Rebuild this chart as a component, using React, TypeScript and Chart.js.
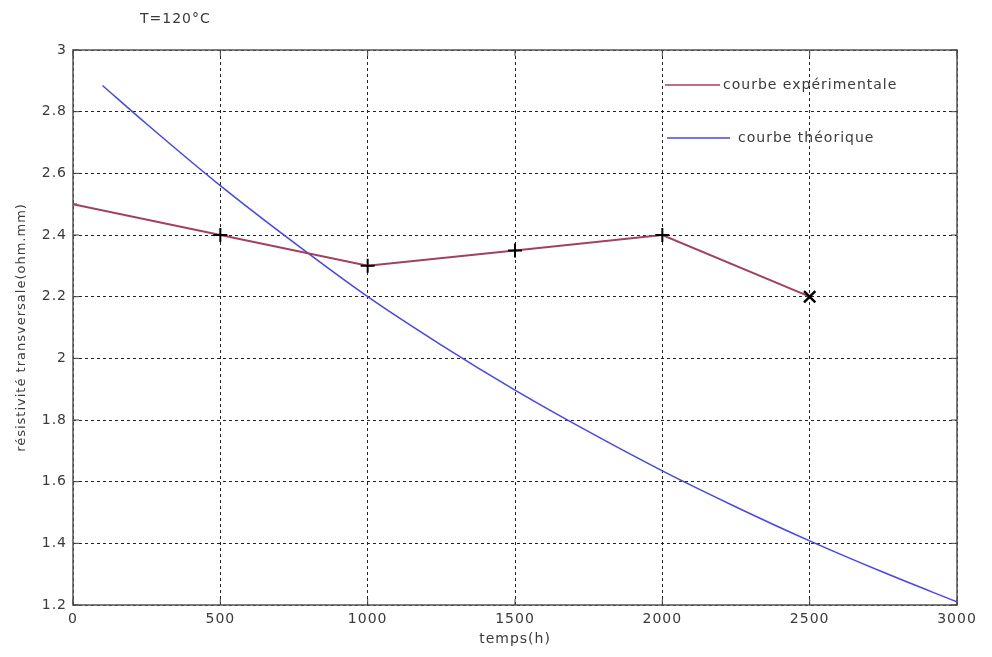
import React, { useEffect, useRef } from "react";
import { Chart, registerables } from "chart.js";

Chart.register(...registerables);

const titleText = "T=120°C";
const xTitle = "temps(h)";
const yTitle = "résistivité transversale(ohm.mm)";

const expLabel = "courbe expérimentale";
const expX = [0, 500, 1000, 1500, 2000, 2500];
const expY = [2.5, 2.4, 2.3, 2.35, 2.4, 2.2];

const theoLabel = "courbe théorique";
const theoX = [100, 250, 500, 750, 1000, 1250, 1500, 1750, 2000, 2250, 2500, 2750, 3000];
const theoY = [2.885, 2.76, 2.56, 2.375, 2.2, 2.043, 1.897, 1.762, 1.635, 1.518, 1.408, 1.306, 1.21];

const xTicks = [0, 500, 1000, 1500, 2000, 2500, 3000];
const yTicks = [1.2, 1.4, 1.6, 1.8, 2, 2.2, 2.4, 2.6, 2.8, 3];

const EXP_COLOR = "#a3405f";
const THEO_COLOR = "#4545f5";
const TEXT_COLOR = "#3a3a3a";
const FONT = "DejaVu Sans, Arial, sans-serif";

const spacingPlugin = {
  id: "spacing",
  beforeDraw(chart: any) {
    (chart.ctx as any).letterSpacing = "1px";
  },
};

const decorPlugin = {
  id: "decor",
  afterDatasetsDraw(chart: any) {
    const { ctx, chartArea: a, scales } = chart;
    ctx.save();
    ctx.strokeStyle = "#555";
    ctx.lineWidth = 1.5;
    ctx.setLineDash([]);
    ctx.strokeRect(a.left, a.top, a.right - a.left, a.bottom - a.top);
    ctx.strokeStyle = "#444";
    ctx.lineWidth = 1;
    xTicks.forEach((v) => {
      const px = scales.x.getPixelForValue(v);
      ctx.beginPath();
      ctx.moveTo(px, a.bottom);
      ctx.lineTo(px, a.bottom - 6);
      ctx.moveTo(px, a.top);
      ctx.lineTo(px, a.top + 6);
      ctx.stroke();
    });
    yTicks.forEach((v) => {
      const py = scales.y.getPixelForValue(v);
      ctx.beginPath();
      ctx.moveTo(a.left, py);
      ctx.lineTo(a.left + 6, py);
      ctx.moveTo(a.right, py);
      ctx.lineTo(a.right - 6, py);
      ctx.stroke();
    });
    (ctx as any).letterSpacing = "1px";
    ctx.fillStyle = TEXT_COLOR;
    ctx.font = `14px ${FONT}`;
    ctx.textAlign = "left";
    ctx.textBaseline = "middle";
    ctx.fillText(titleText, 140, 19);
    ctx.lineWidth = 1.5;
    ctx.strokeStyle = EXP_COLOR;
    ctx.beginPath();
    ctx.moveTo(665, 85);
    ctx.lineTo(720, 85);
    ctx.stroke();
    ctx.strokeStyle = THEO_COLOR;
    ctx.beginPath();
    ctx.moveTo(667, 138);
    ctx.lineTo(730, 138);
    ctx.stroke();
    ctx.fillStyle = TEXT_COLOR;
    ctx.fillText(expLabel, 723, 85);
    ctx.fillText(theoLabel, 738, 138);
    ctx.restore();
  },
};

export default function App() {
  const ref = useRef<HTMLCanvasElement | null>(null);
  useEffect(() => {
    document.body.style.margin = "0";
    document.body.style.background = "#ffffff";
    const chart = new Chart(ref.current as HTMLCanvasElement, {
      type: "scatter",
      data: {
        datasets: [
          {
            label: expLabel,
            data: expX.map((x, i) => ({ x, y: expY[i] })),
            showLine: true,
            borderColor: EXP_COLOR,
            borderWidth: 2,
            tension: 0,
            pointStyle: ["line", "cross", "cross", "cross", "cross", "crossRot"] as any,
            pointRadius: [4, 7, 7, 7, 7, 8],
            pointBorderColor: [EXP_COLOR, "#000", "#000", "#000", "#000", "#000"],
            pointBorderWidth: [1.5, 2, 2, 2, 2, 2.5],
            pointBackgroundColor: "#000",
          },
          {
            label: theoLabel,
            data: theoX.map((x, i) => ({ x, y: theoY[i] })),
            showLine: true,
            borderColor: THEO_COLOR,
            borderWidth: 1.5,
            cubicInterpolationMode: "monotone",
            pointRadius: 0,
          },
        ],
      },
      options: {
        responsive: false,
        animation: false,
        layout: { padding: { left: 0, right: 35, top: 50, bottom: 0 } },
        plugins: {
          legend: { display: false },
          title: { display: false },
          tooltip: { enabled: false },
        },
        scales: {
          x: {
            type: "linear",
            min: 0,
            max: 3000,
            afterBuildTicks: (s: any) => {
              s.ticks = xTicks.map((v) => ({ value: v }));
            },
            afterFit: (s: any) => {
              s.height = 52;
            },
            grid: { color: "#222", lineWidth: 1, drawTicks: false },
            border: { display: false, dash: [3, 3] },
            ticks: {
              color: TEXT_COLOR,
              font: { family: FONT, size: 14 },
              padding: 6,
              maxRotation: 0,
              callback: (v: any) => String(v),
            },
            title: {
              display: true,
              text: xTitle,
              color: TEXT_COLOR,
              font: { family: FONT, size: 14 },
              padding: { top: 0, bottom: 9 },
            },
          },
          y: {
            type: "linear",
            min: 1.2,
            max: 3,
            afterBuildTicks: (s: any) => {
              s.ticks = yTicks.map((v) => ({ value: v }));
            },
            afterFit: (s: any) => {
              s.width = 73;
            },
            grid: { color: "#222", lineWidth: 1, drawTicks: false },
            border: { display: false, dash: [3, 3] },
            ticks: {
              color: TEXT_COLOR,
              font: { family: FONT, size: 14 },
              padding: 6,
              callback: (v: any) => String(Math.round(v * 10) / 10),
            },
            title: {
              display: true,
              text: yTitle,
              color: TEXT_COLOR,
              font: { family: FONT, size: 13 },
              padding: { top: 14, bottom: 0 },
            },
          },
        },
      },
      plugins: [spacingPlugin, decorPlugin],
    });
    return () => chart.destroy();
  }, []);
  return <canvas ref={ref} width={992} height={657} style={{ display: "block" }} />;
}
